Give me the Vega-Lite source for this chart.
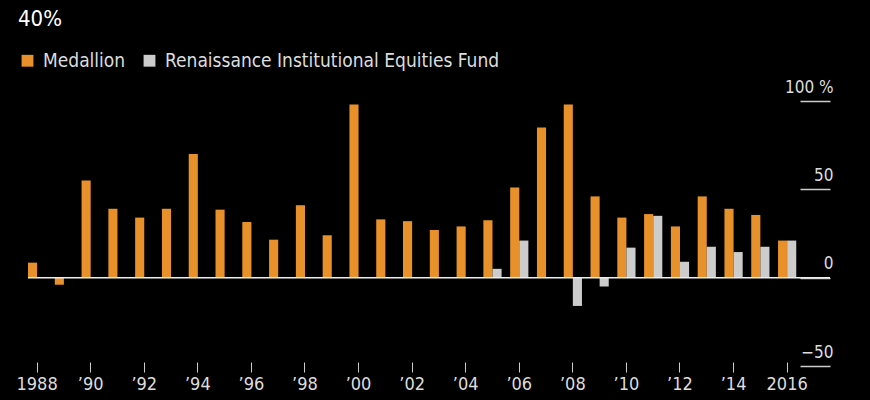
{
  "$schema": "https://vega.github.io/schema/vega-lite/v6.json",
  "width": 802,
  "height": 265,
  "autosize": "none",
  "padding": {"left": 28, "top": 101, "right": 40, "bottom": 34},
  "background": "#000000",
  "title": {"text": "40%", "anchor": "start", "frame": "group", "dx": -10, "offset": 20, "color": "#ffffff", "font": "DejaVu Sans Condensed", "fontSize": 22, "fontWeight": "normal"},
  "config": {"view": {"stroke": null}, "font": "DejaVu Sans Condensed"},
  "data": {"values": [
    {"year": 1988, "fund": "Medallion", "ret": 8.5},
    {"year": 1989, "fund": "Medallion", "ret": -4},
    {"year": 1990, "fund": "Medallion", "ret": 55},
    {"year": 1991, "fund": "Medallion", "ret": 39},
    {"year": 1992, "fund": "Medallion", "ret": 34},
    {"year": 1993, "fund": "Medallion", "ret": 39},
    {"year": 1994, "fund": "Medallion", "ret": 70},
    {"year": 1995, "fund": "Medallion", "ret": 38.5},
    {"year": 1996, "fund": "Medallion", "ret": 31.5},
    {"year": 1997, "fund": "Medallion", "ret": 21.5},
    {"year": 1998, "fund": "Medallion", "ret": 41},
    {"year": 1999, "fund": "Medallion", "ret": 24},
    {"year": 2000, "fund": "Medallion", "ret": 98},
    {"year": 2001, "fund": "Medallion", "ret": 33},
    {"year": 2002, "fund": "Medallion", "ret": 32},
    {"year": 2003, "fund": "Medallion", "ret": 27},
    {"year": 2004, "fund": "Medallion", "ret": 29},
    {"year": 2005, "fund": "Medallion", "ret": 32.5},
    {"year": 2006, "fund": "Medallion", "ret": 51},
    {"year": 2007, "fund": "Medallion", "ret": 85},
    {"year": 2008, "fund": "Medallion", "ret": 98},
    {"year": 2009, "fund": "Medallion", "ret": 46},
    {"year": 2010, "fund": "Medallion", "ret": 34},
    {"year": 2011, "fund": "Medallion", "ret": 36},
    {"year": 2012, "fund": "Medallion", "ret": 29},
    {"year": 2013, "fund": "Medallion", "ret": 46},
    {"year": 2014, "fund": "Medallion", "ret": 39},
    {"year": 2015, "fund": "Medallion", "ret": 35.5},
    {"year": 2016, "fund": "Medallion", "ret": 21},
    {"year": 2005, "fund": "Renaissance Institutional Equities Fund", "ret": 5},
    {"year": 2006, "fund": "Renaissance Institutional Equities Fund", "ret": 21},
    {"year": 2008, "fund": "Renaissance Institutional Equities Fund", "ret": -16},
    {"year": 2009, "fund": "Renaissance Institutional Equities Fund", "ret": -5},
    {"year": 2010, "fund": "Renaissance Institutional Equities Fund", "ret": 17},
    {"year": 2011, "fund": "Renaissance Institutional Equities Fund", "ret": 35},
    {"year": 2012, "fund": "Renaissance Institutional Equities Fund", "ret": 9},
    {"year": 2013, "fund": "Renaissance Institutional Equities Fund", "ret": 17.5},
    {"year": 2014, "fund": "Renaissance Institutional Equities Fund", "ret": 14.5},
    {"year": 2015, "fund": "Renaissance Institutional Equities Fund", "ret": 17.5},
    {"year": 2016, "fund": "Renaissance Institutional Equities Fund", "ret": 21}
  ]},
  "layer": [
    {
      "mark": {"type": "bar"},
      "encoding": {
        "x": {
          "field": "year", "type": "ordinal",
          "scale": {"paddingInner": 0.32, "paddingOuter": 0.63, "align": 0},
          "axis": {
            "title": null, "domain": false, "labelAngle": 0, "tickSize": 10, "offset": -4,
            "values": [1988, 1990, 1992, 1994, 1996, 1998, 2000, 2002, 2004, 2006, 2008, 2010, 2012, 2014, 2016],
            "tickColor": "#cccccc", "labelColor": "#dddddd", "labelFontSize": 18, "labelPadding": 3,
            "labelExpr": "datum.value == 1988 || datum.value == 2016 ? datum.label : '\u2019' + substring(datum.label, 2, 4)",
            "tickBand": "center"
          }
        },
        "xOffset": {"field": "fund", "type": "nominal", "scale": {"domain": ["Medallion", "Renaissance Institutional Equities Fund"]}},
        "y": {
          "field": "ret", "type": "quantitative",
          "scale": {"domain": [-50, 100], "nice": false},
          "axis": {
            "title": null, "orient": "right", "values": [-50, 0, 50, 100], "grid": false, "domain": false,
            "tickSize": -30, "tickColor": "#cccccc", "tickWidth": 1.5,
            "labelAlign": "right", "labelBaseline": "bottom", "labelPadding": 33, "labelOffset": -5,
            "labelColor": "#dddddd", "labelFontSize": 17,
            "labelExpr": "datum.value == 100 ? '100 %' : datum.label"
          }
        },
        "color": {
          "field": "fund", "type": "nominal",
          "scale": {"domain": ["Medallion", "Renaissance Institutional Equities Fund"], "range": ["#e8912b", "#cccccc"]},
          "legend": {
            "title": null, "orient": "none", "direction": "horizontal", "legendX": -10, "legendY": -50,
            "symbolType": "square", "symbolSize": 140, "symbolStrokeWidth": 0, "labelColor": "#dddddd", "labelFontSize": 19, "labelLimit": 0, "columnPadding": 14, "symbolOffset": 0, "labelOffset": 6
          }
        }
      }
    },
    {
      "data": {"values": [{"z": 0}]},
      "mark": {"type": "rule", "color": "#eeeeee", "strokeWidth": 1.5},
      "encoding": {"y": {"field": "z", "type": "quantitative"}}
    }
  ]
}
